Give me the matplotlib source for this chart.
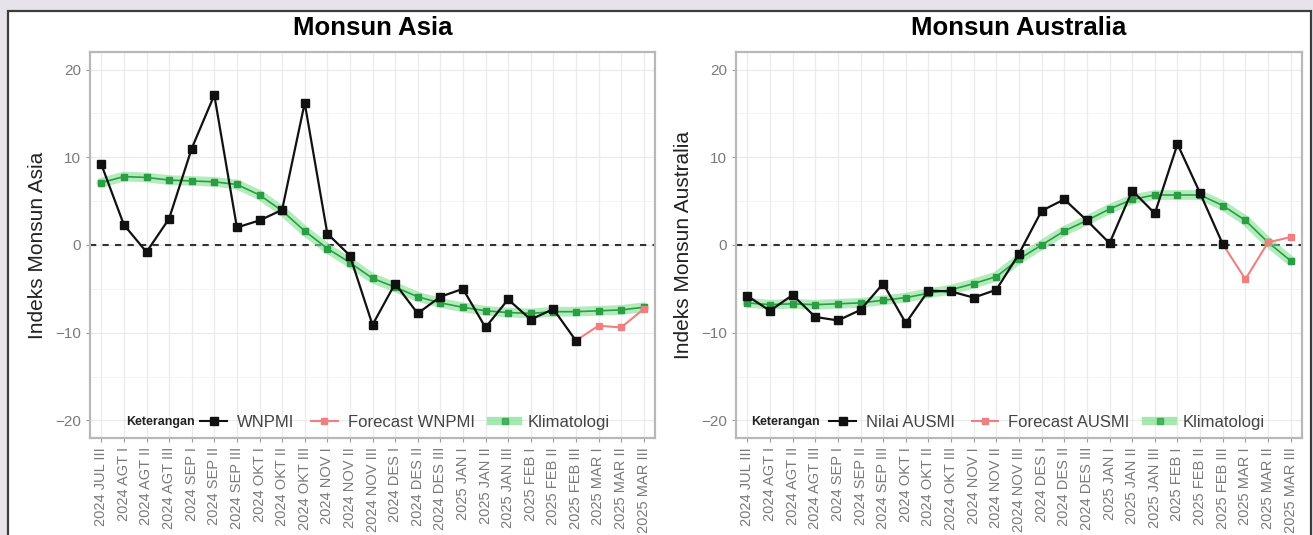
import numpy as np
import matplotlib
matplotlib.use("Agg")
import matplotlib.pyplot as plt
from matplotlib.lines import Line2D
from matplotlib.patches import Rectangle

plt.rcParams["font.family"] = ["Liberation Sans", "DejaVu Sans"]

# label dasarian
periode = [
    "2024 JUL III",
    "2024 AGT I", "2024 AGT II", "2024 AGT III",
    "2024 SEP I", "2024 SEP II", "2024 SEP III",
    "2024 OKT I", "2024 OKT II", "2024 OKT III",
    "2024 NOV I", "2024 NOV II", "2024 NOV III",
    "2024 DES I", "2024 DES II", "2024 DES III",
    "2025 JAN I", "2025 JAN II", "2025 JAN III",
    "2025 FEB I", "2025 FEB II", "2025 FEB III",
    "2025 MAR I", "2025 MAR II", "2025 MAR III",
]
nan = np.nan

# Monsun Asia
wnpmi = [9.2, 2.3, -0.8, 3.0, 11.0, 17.1, 2.0, 2.8, 4.0, 16.2, 1.3, -1.2,
         -9.1, -4.4, -7.8, -5.9, -5.0, -9.4, -6.2, -8.5, -7.3, -10.9,
         nan, nan, nan]
forecast_wnpmi = [nan] * 21 + [-10.9, -9.2, -9.4, -7.3]
klim_asia = [7.1, 7.8, 7.7, 7.4, 7.3, 7.2, 6.9, 5.7, 3.9, 1.6, -0.4, -2.0,
             -3.8, -4.8, -5.9, -6.6, -7.1, -7.5, -7.7, -7.8, -7.6, -7.6,
             -7.5, -7.4, -7.1]

# Monsun Australia
ausmi = [-5.8, -7.5, -5.7, -8.2, -8.6, -7.4, -4.4, -8.9, -5.2, -5.3, -6.0,
         -5.1, -1.0, 3.9, 5.2, 2.8, 0.2, 6.2, 3.6, 11.5, 5.9, 0.1,
         nan, nan, nan]
forecast_ausmi = [nan] * 21 + [0.1, -3.9, 0.3, 0.9]
klim_aus = [-6.6, -6.8, -6.7, -6.8, -6.7, -6.6, -6.3, -6.0, -5.5, -5.1,
            -4.4, -3.6, -1.6, 0.0, 1.6, 2.8, 4.1, 5.2, 5.7, 5.7, 5.7, 4.5,
            2.8, 0.3, -1.8]

W, H = 1313, 535
fig = plt.figure(figsize=(W / 100, H / 100), dpi=100)
fig.patches.append(Rectangle((0, 0), 1, 1, transform=fig.transFigure,
                             facecolor="#e7e3ea", edgecolor="none", zorder=-10))
fig.patches.append(Rectangle((8 / W, -0.02), (1311 - 8) / W, 1.02 - 11 / H,
                             transform=fig.transFigure, facecolor="white",
                             edgecolor="#3c3c3c", lw=1.6, zorder=-9))

c_obs = "#111111"
c_fc = "#f08080"
c_klim = "#2a9d45"
c_band = "#7fe08f"


def panel(rect, obs, fc, klim, judul, ylabel, obs_lab, fc_lab, ket_x, leg_x):
    ax = fig.add_axes(rect)
    x = np.arange(len(periode))
    ax.set_xlim(-0.5, len(periode) - 0.5)
    ax.set_ylim(-22, 22)
    ax.set_yticks([-20, -10, 0, 10, 20])
    ax.set_yticks([-15, -5, 5, 15], minor=True)
    ax.set_xticks(x)
    ax.set_xticklabels(periode, rotation=90, va="top", ha="center")
    ax.tick_params(axis="both", colors="#9a9a9a", labelcolor="#7a7a7a",
                   labelsize=10.5, length=3, width=0.8)
    ax.tick_params(axis="y", labelsize=11)
    ax.tick_params(axis="y", which="minor", length=0)
    ax.grid(True, which="major", color="#ebebeb", lw=0.9)
    ax.grid(True, which="minor", axis="y", color="#f3f3f3", lw=0.6)
    ax.set_axisbelow(True)
    for s in ax.spines.values():
        s.set_color("#b8b8b8")
        s.set_linewidth(1.6)

    ax.axhline(0, color="#333333", lw=1.5, ls=(0, (3, 3)), zorder=2)

    ax.plot(x, klim, color=c_band, lw=7, alpha=0.6, solid_capstyle="round",
            zorder=3)
    ax.plot(x, klim, color=c_klim, lw=1.2, marker="s", ms=5,
            markerfacecolor=c_klim, markeredgecolor=c_klim, zorder=4)
    ax.plot(x, fc, color=c_fc, lw=1.5, marker="s", ms=5, zorder=5)
    ax.plot(x, obs, color=c_obs, lw=1.6, marker="s", ms=6, zorder=6)

    ax.set_title(judul, fontsize=18.5, fontweight="bold", pad=12)
    ax.set_ylabel(ylabel, fontsize=15, color="#222222", labelpad=6)

    handles = [
        Line2D([], [], color=c_obs, lw=1.5, marker="s", ms=6),
        Line2D([], [], color=c_fc, lw=1.5, marker="s", ms=5),
        Line2D([], [], color=c_band, lw=6, alpha=0.7, marker="s", ms=5,
               markerfacecolor=c_klim, markeredgecolor=c_klim),
    ]
    ax.text(ket_x, 0.041, "Keterangan", transform=ax.transAxes, ha="right",
            va="center", fontsize=9, fontweight="bold", color="#222222")
    leg = ax.legend(handles, [obs_lab, fc_lab, "Klimatologi"], ncol=3,
                    loc="center left", bbox_to_anchor=(leg_x, 0.041),
                    frameon=False, fontsize=12, handlelength=1.6,
                    handletextpad=0.6, columnspacing=1.0, borderpad=0,
                    borderaxespad=0)
    for t in leg.get_texts():
        t.set_color("#444444")
    return ax


panel([90 / W, 1 - 438 / H, 565 / W, 386 / H], wnpmi, forecast_wnpmi,
      klim_asia, "Monsun Asia", "Indeks Monsun Asia", "WNPMI",
      "Forecast WNPMI", 0.185, 0.195)
panel([736 / W, 1 - 438 / H, 566 / W, 386 / H], ausmi, forecast_ausmi,
      klim_aus, "Monsun Australia", "Indeks Monsun Australia", "Nilai AUSMI",
      "Forecast AUSMI", 0.148, 0.165)

fig.savefig("out.png", dpi=100)
